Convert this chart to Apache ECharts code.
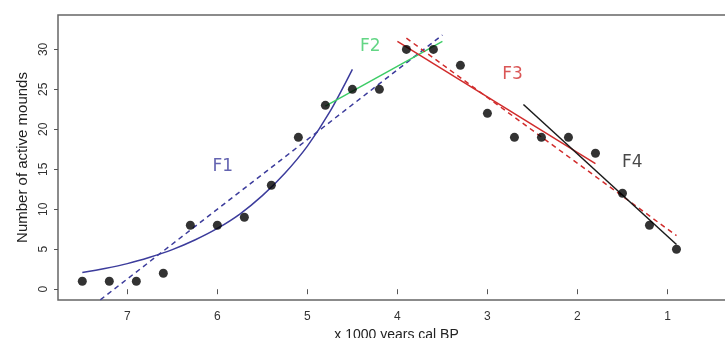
<!DOCTYPE html>
<html>
<head>
<meta charset="utf-8">
<script src="https://cdn.jsdelivr.net/npm/echarts@6/dist/echarts.min.js"></script>
<style>
  html, body { margin: 0; padding: 0; background: #fff; }
  #chart { width: 725px; height: 338px; }
</style>
</head>
<body>
<div id="chart"></div>
<script>
// observed mound counts (x in 1000 years cal BP)
const ageK = [7.5, 7.2, 6.9, 6.6, 6.3, 6.0, 5.7, 5.4, 5.1, 4.8, 4.5, 4.2, 3.9, 3.6, 3.3, 3.0, 2.7, 2.4, 2.1, 1.8, 1.5, 1.2, 0.9];
const mounds = [1, 1, 1, 2, 8, 8, 9, 13, 19, 23, 25, 25, 30, 30, 28, 22, 19, 19, 19, 17, 12, 8, 5];

// fitted lines
const f1CurveX = [7.5, 7.25, 7.0, 6.75, 6.5, 6.25, 6.0, 5.75, 5.5, 5.25, 5.0, 4.75, 4.5];
const f1CurveY = [2.1, 2.6, 3.2, 4.0, 4.95, 6.15, 7.6, 9.4, 11.7, 14.5, 17.9, 22.2, 27.5];
const f1DashX = [7.3, 3.5];
const f1DashY = [-1.33, 31.8];
const f2X = [4.8, 3.5];
const f2Y = [22.9, 31.0];
const f3X = [4.0, 1.8];
const f3Y = [31.0, 15.7];
const f3DashX = [3.9, 0.9];
const f3DashY = [31.4, 6.7];
const f4X = [2.6, 0.9];
const f4Y = [23.1, 5.6];

// phase labels
const phaseNames = ['F1', 'F2', 'F3', 'F4'];
const phaseX = [5.94, 4.3, 2.72, 1.39];
const phaseY = [15.4, 30.4, 26.9, 15.9];
const phaseColors = ['#3c3c9c', '#3ccc66', '#d12c2c', '#1a1a1a'];

const xTicks = [1, 2, 3, 4, 5, 6, 7];
const yTicks = [0, 5, 10, 15, 20, 25, 30];

const zip = (xs, ys) => xs.map((x, i) => [x, ys[i]]);

const chart = echarts.init(document.getElementById('chart'));
const font = 'Liberation Sans, Arial, sans-serif';

const lineSeries = (xs, ys, color, dashed, smooth) => ({
  type: 'line',
  data: zip(xs, ys),
  showSymbol: false,
  smooth: smooth ? 0.3 : false,
  silent: true,
  z: 2,
  lineStyle: { color: color, width: 1.5, type: dashed ? [5, 4] : 'solid' }
});

chart.setOption({
  animation: false,
  grid: {
    left: 58, top: 15, right: -10, bottom: 38,
    outerBoundsMode: 'none',
    show: true, borderColor: '#666', borderWidth: 1.5, backgroundColor: '#fff'
  },
  xAxis: {
    type: 'value', inverse: true, min: 0.25, max: 7.77,
    axisLine: { show: false },
    splitLine: { show: false },
    axisTick: { show: true, length: 5, customValues: xTicks, lineStyle: { color: '#555' } },
    axisLabel: { customValues: xTicks, margin: 11, fontSize: 12, color: '#333', fontFamily: font },
    name: 'x 1000 years cal BP', nameLocation: 'middle', nameGap: 25,
    nameTextStyle: { fontSize: 14, color: '#222', fontFamily: font }
  },
  yAxis: {
    type: 'value', min: -1.35, max: 34.3,
    axisLine: { show: false },
    splitLine: { show: false },
    axisTick: { show: true, length: 4, customValues: yTicks, lineStyle: { color: '#555' } },
    axisLabel: { customValues: yTicks, rotate: 90, margin: 8, fontSize: 12, color: '#333', fontFamily: font },
    name: 'Number of active mounds', nameLocation: 'middle', nameGap: 27,
    nameTextStyle: { fontSize: 15, color: '#222', fontFamily: font }
  },
  series: [
    lineSeries(f1CurveX, f1CurveY, phaseColors[0], false, true),
    lineSeries(f1DashX, f1DashY, phaseColors[0], true),
    lineSeries(f2X, f2Y, phaseColors[1], false),
    lineSeries(f3X, f3Y, phaseColors[2], false),
    lineSeries(f3DashX, f3DashY, phaseColors[2], true),
    lineSeries(f4X, f4Y, phaseColors[3], false),
    {
      type: 'scatter',
      data: zip(ageK, mounds),
      symbol: 'circle',
      symbolSize: 9,
      itemStyle: { color: '#000' },
      z: 5
    },
    ...phaseNames.map((n, i) => ({
      type: 'scatter',
      data: [[phaseX[i], phaseY[i]]],
      symbolSize: 0,
      silent: true,
      z: 6,
      label: {
        show: true, position: 'inside', formatter: n,
        fontSize: 17, color: phaseColors[i], fontFamily: 'DejaVu Sans, Verdana, sans-serif'
      }
    }))
  ]
});
</script>
</body>
</html>
